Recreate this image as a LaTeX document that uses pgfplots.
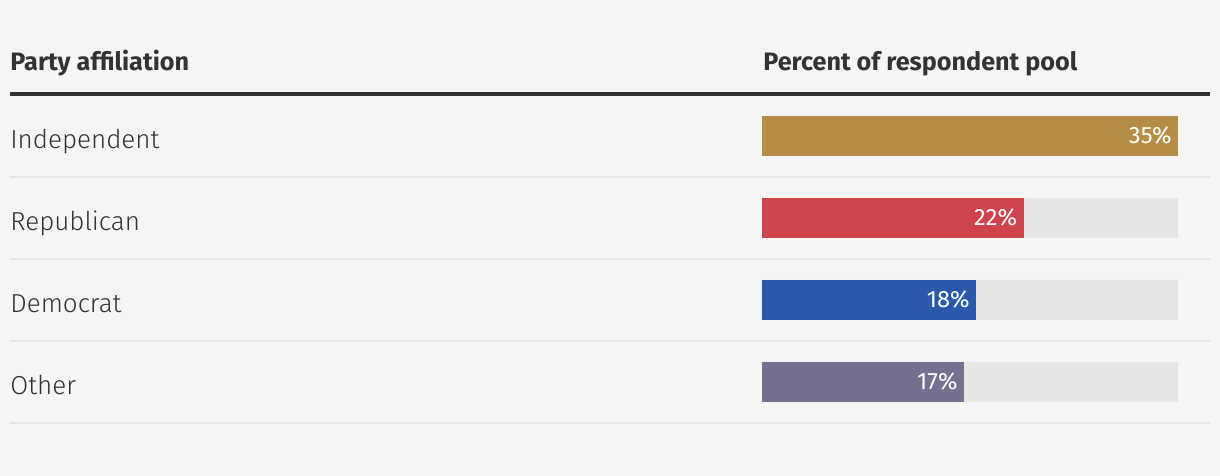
\documentclass[border=0pt]{standalone}
\usepackage{pgfplots}
\pgfplotsset{compat=1.18}
\usepackage{fontspec}
\setmainfont{Fira Sans}
\newfontfamily\lightf{Fira Sans Light}
\definecolor{bg}{HTML}{F5F5F3}
\definecolor{ink}{HTML}{333333}
\definecolor{sep}{HTML}{E5E5E3}
\definecolor{track}{HTML}{E6E6E4}
\definecolor{gold}{HTML}{B68D45}
\definecolor{red}{HTML}{CF434D}
\definecolor{blue}{HTML}{2B5AAD}
\definecolor{purp}{HTML}{73718F}
\begin{document}
\begin{tikzpicture}
\fill[bg] (0,0) rectangle (610pt,238pt);
\begin{axis}[
  at={(0,0)}, anchor=south west,
  scale only axis, width=610pt, height=238pt,
  xmin=-64.111, xmax=38.534,
  ymin=-4.1463, ymax=1.6585,
  axis lines=none, ticks=none,
  clip=false,
  xbar, bar width=20pt, bar shift=0pt,
  every axis plot/.append style={draw=none},
  point meta=explicit symbolic,
  every node near coord/.append style={anchor=east, xshift=-3pt, yshift=0.4pt, inner sep=0pt, text=white, font=\fontsize{11.8pt}{13pt}\selectfont},
]
% gray tracks
\addplot[fill=track] coordinates {(35,0) (35,-1) (35,-2) (35,-3)};
% values
\addplot[fill=gold, nodes near coords] coordinates {(35,0) [35\%]};
\addplot[fill=red, nodes near coords] coordinates {(22,-1) [22\%]};
\addplot[fill=blue, nodes near coords] coordinates {(18,-2) [18\%]};
\addplot[fill=purp, nodes near coords] coordinates {(17,-3) [17\%]};
% header
\node[anchor=base west, text=ink, font=\bfseries\fontsize{12.6pt}{14pt}\selectfont, inner sep=0pt] at (axis cs:-63.27,0.799) {Party affiliation};
\node[anchor=base west, text=ink, font=\bfseries\fontsize{12.6pt}{14pt}\selectfont, inner sep=0pt] at (axis cs:0.084,0.799) {Percent of respondent pool};
\draw[ink, line width=2pt] (axis cs:-63.27,0.518) -- (axis cs:37.69,0.518);
% separators
\pgfplotsinvokeforeach{-0.5,-1.5,-2.5,-3.5}{
  \draw[sep, line width=1pt] (axis cs:-63.27,#1) -- (axis cs:37.69,#1);
}
% row labels
\node[anchor=base west, text=ink, font=\lightf\fontsize{13pt}{15pt}\selectfont, inner sep=0pt] at (axis cs:-63.27,-0.15) {Independent};
\node[anchor=base west, text=ink, font=\lightf\fontsize{13pt}{15pt}\selectfont, inner sep=0pt] at (axis cs:-63.27,-1.15) {Republican};
\node[anchor=base west, text=ink, font=\lightf\fontsize{13pt}{15pt}\selectfont, inner sep=0pt] at (axis cs:-63.27,-2.15) {Democrat};
\node[anchor=base west, text=ink, font=\lightf\fontsize{13pt}{15pt}\selectfont, inner sep=0pt] at (axis cs:-63.27,-3.15) {Other};
\end{axis}
\end{tikzpicture}
\end{document}
